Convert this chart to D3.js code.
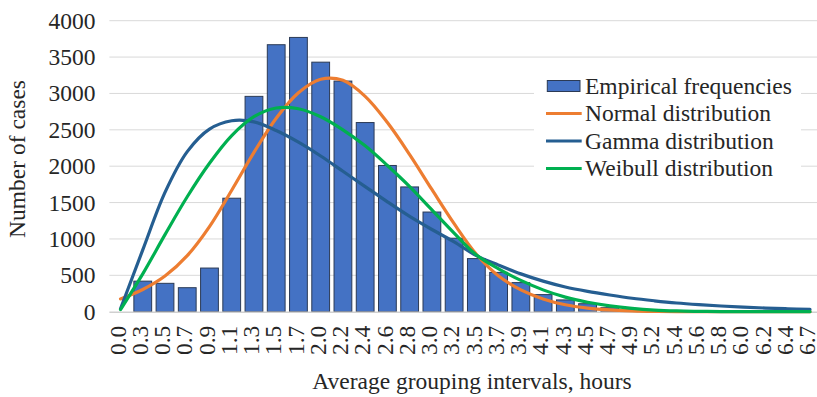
<!DOCTYPE html>
<html>
<head>
<meta charset="utf-8">
<script src="https://cdn.jsdelivr.net/npm/d3@7"></script>
<style>
  body { margin: 0; background: #fff; }
  text { font-family: "Times New Roman", "Liberation Serif", serif; fill: #262626; }
</style>
</head>
<body>
<div id="chart"></div>
<script>
// category labels on the x axis (hours)
var categories = ["0.0", "0.3", "0.5", "0.7", "0.9", "1.1", "1.3", "1.5", "1.7", "2.0", "2.2", "2.4", "2.6", "2.8", "3.0", "3.2",
  "3.5", "3.7", "3.9", "4.1", "4.3", "4.5", "4.7", "4.9", "5.2", "5.4", "5.6", "5.8", "6.0", "6.2", "6.4", "6.7"];

var empirical = [null, 420, 390, 330, 600, 1560, 2960, 3670, 3770, 3430, 3170, 2600, 2010, 1715, 1370, 1010,
  730, 540, 400, 235, 162, 110, 55, 30, 15, 8, 4, 2, 0, 0, 0, 0];
var normal = [175, 305, 490, 770, 1170, 1670, 2190, 2660, 3010, 3195, 3180, 2960, 2600, 2160, 1680, 1210,
  790, 490, 300, 175, 95, 50, 25, 12, 5, 2, 1, 0, 0, 0, 0, 0];
var gamma = [40, 850, 1640, 2200, 2510, 2625, 2610, 2490, 2330, 2140, 1930, 1720, 1510, 1310, 1130, 960,
  770, 640, 520, 420, 340, 280, 230, 185, 150, 120, 97, 78, 62, 50, 40, 32];
var weibull = [30, 520, 1060, 1580, 2040, 2420, 2680, 2800, 2790, 2680, 2500, 2280, 2010, 1720, 1400, 1080,
  780, 590, 430, 300, 200, 130, 80, 45, 22, 10, 5, 2, 1, 0, 0, 0];

var yTicks = [0, 500, 1000, 1500, 2000, 2500, 3000, 3500, 4000];

var lineSeries = [
  { name: "Normal distribution", values: normal, color: "#ED7D31" },
  { name: "Gamma distribution", values: gamma, color: "#255E91" },
  { name: "Weibull distribution", values: weibull, color: "#00B050" }
];

var width = 817, height = 397;
var fontSize = "23.5px";

var svg = d3.select("#chart")
  .append("svg")
  .attr("width", width)
  .attr("height", height);

var x = d3.scaleBand()
  .domain(categories)
  .range([109.4, 821.1])
  .paddingInner(0.2)
  .paddingOuter(0.1);

var y = d3.scaleLinear()
  .domain([0, 4000])
  .range([311.7, 20.7]);

// gridlines
svg.append("g")
  .selectAll("line")
  .data(yTicks.slice(1))
  .enter()
  .append("line")
  .attr("x1", 109.4)
  .attr("x2", width)
  .attr("y1", function (d) { return y(d); })
  .attr("y2", function (d) { return y(d); })
  .attr("stroke", "#D9D9D9")
  .attr("stroke-width", 1);

// Y axis (labels only)
var yAxis = svg.append("g")
  .attr("transform", "translate(109.4,0)")
  .call(d3.axisLeft(y).tickValues(yTicks).tickSize(0).tickPadding(14).tickFormat(d3.format("d")));
yAxis.select(".domain").remove();
yAxis.selectAll("text").attr("font-size", fontSize).attr("fill", "#262626");

// bars
svg.append("g")
  .selectAll("rect")
  .data(categories.map(function (c, i) { return { cat: c, v: empirical[i] }; })
    .filter(function (d) { return d.v != null && d.v > 0; }))
  .enter()
  .append("rect")
  .attr("x", function (d) { return x(d.cat); })
  .attr("width", x.bandwidth())
  .attr("y", function (d) { return y(d.v); })
  .attr("height", function (d) { return y(0) - y(d.v); })
  .attr("fill", "#4472C4")
  .attr("stroke", "#2B3A55")
  .attr("stroke-width", 1);

// X axis
var xAxis = svg.append("g")
  .attr("transform", "translate(0," + y(0) + ")")
  .call(d3.axisBottom(x).tickSize(0).tickSizeOuter(0));
xAxis.select(".domain")
  .attr("stroke", "#D0D0D0")
  .attr("stroke-width", 1.5)
  .attr("d", "M109.4,0.5H" + width);
xAxis.selectAll("text")
  .attr("font-size", fontSize)
  .attr("fill", "#262626")
  .attr("text-anchor", "end")
  .attr("transform", "rotate(-90)")
  .attr("x", -14)
  .attr("y", 0)
  .attr("dy", "0.22em");

// distribution lines
var line = d3.line()
  .x(function (d, i) { return x(categories[i]) + x.bandwidth() / 2; })
  .y(function (d) { return y(d); })
  .curve(d3.curveCatmullRom);

svg.append("g")
  .selectAll("path")
  .data(lineSeries)
  .enter()
  .append("path")
  .attr("d", function (d) { return line(d.values); })
  .attr("fill", "none")
  .attr("stroke", function (d) { return d.color; })
  .attr("stroke-width", 3.2)
  .attr("stroke-linecap", "round");

// axis titles
svg.append("text")
  .attr("x", 472)
  .attr("y", 389)
  .attr("text-anchor", "middle")
  .attr("font-size", fontSize)
  .text("Average grouping intervals, hours");

svg.append("text")
  .attr("transform", "translate(25,159) rotate(-90)")
  .attr("text-anchor", "middle")
  .attr("font-size", fontSize)
  .text("Number of cases");

// legend
var legend = svg.append("g");
legend.append("rect")
  .attr("x", 534).attr("y", 69)
  .attr("width", 267).attr("height", 114)
  .attr("fill", "#fff");

var legendRows = [{ name: "Empirical frequencies", bar: true }].concat(lineSeries);
var rowY = [86, 113.5, 141, 168.5];

legendRows.forEach(function (d, i) {
  if (d.bar) {
    legend.append("rect")
      .attr("x", 547.3).attr("y", rowY[i] - 5.5)
      .attr("width", 32.7).attr("height", 11)
      .attr("fill", "#4472C4")
      .attr("stroke", "#2B3A55")
      .attr("stroke-width", 1);
  } else {
    legend.append("line")
      .attr("x1", 546).attr("x2", 581.7)
      .attr("y1", rowY[i]).attr("y2", rowY[i])
      .attr("stroke", d.color)
      .attr("stroke-width", 3.2);
  }
  legend.append("text")
    .attr("x", 585)
    .attr("y", rowY[i] + 7.5)
    .attr("font-size", fontSize)
    .text(d.name);
});
</script>
</body>
</html>
